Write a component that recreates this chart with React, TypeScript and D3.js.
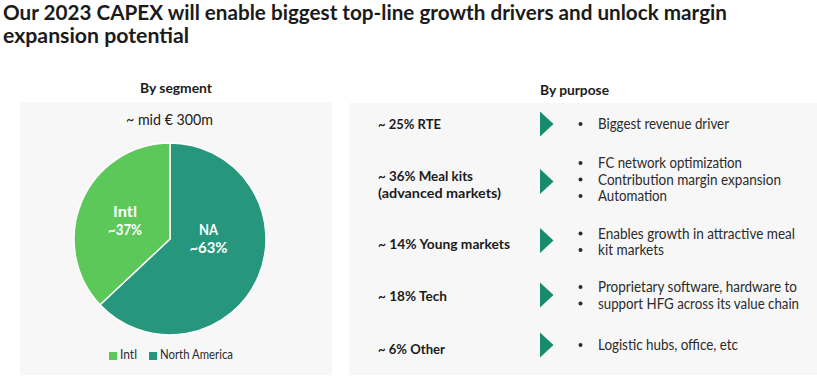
import React from "react";
import * as d3 from "d3";

const titleLines = [
  "Our 2023 CAPEX will enable biggest top-line growth drivers and unlock margin",
  "expansion potential",
];
const segments = ["NA", "Intl"];
const segmentLegend = ["Intl", "North America"];
const segmentValues = [63, 37];
const segmentLabels = ["~63%", "~37%"];
const totalLabel = "~ mid € 300m";
const purposeLabels = [
  ["~ 25% RTE"],
  ["~ 36% Meal kits", "(advanced markets)"],
  ["~ 14% Young markets"],
  ["~ 18% Tech"],
  ["~ 6% Other"],
];
const purposeBullets = [
  ["Biggest revenue driver"],
  ["FC network optimization", "Contribution margin expansion", "Automation"],
  ["Enables growth in attractive meal", "kit markets"],
  ["Proprietary software, hardware to", "support HFG across its value chain"],
  ["Logistic hubs, office, etc"],
];

const FONT = "'Source Sans Pro', Lato, 'Open Sans', sans-serif";
const colors: Record<string, string> = { NA: "#26967C", Intl: "#5CC85A" };

// layout (positions only)
const rowTri = [124, 181.5, 240.5, 295, 345];
const rowLabelY = [129.3, 181, 248.5, 300.5, 354];
const rowBulletY = [129, 168, 238.5, 292, 350];
const labelW: Record<string, number> = {
  "~ 25% RTE": 63, "~ 36% Meal kits": 95, "(advanced markets)": 123,
  "~ 14% Young markets": 132, "~ 18% Tech": 69, "~ 6% Other": 67,
};
const bulletW: Record<string, number> = {
  "Biggest revenue driver": 131, "FC network optimization": 144,
  "Contribution margin expansion": 183, "Automation": 69,
  "Enables growth in attractive meal": 197, "kit markets": 66,
  "Proprietary software, hardware to": 199, "support HFG across its value chain": 201,
  "Logistic hubs, office, etc": 140,
};

export default function App() {
  const cx = 170, cy = 239, r = 96;
  const pie = d3.pie<number>().sort(null).value((d) => d);
  const arcs = pie(segmentValues);
  const arc = d3.arc<d3.PieArcDatum<number>>().innerRadius(0).outerRadius(r);
  const labelPos: Record<string, [number, number]> = { NA: [208.5, 235], Intl: [125, 217] };
  const nameW: Record<string, number> = { NA: 19, Intl: 24 };
  const pctW: Record<string, number> = { NA: 38, Intl: 34 };

  return (
    <svg width={817} height={378} style={{ position: "absolute", left: 0, top: 0 }} fontFamily={FONT}>
      <rect width={817} height={378} fill="#fff" />
      <text x={3} y={20} fontSize={21} fontWeight={700} fill="#1b1b1b" textLength={724} lengthAdjust="spacingAndGlyphs">{titleLines[0]}</text>
      <text x={3} y={42.5} fontSize={21} fontWeight={700} fill="#1b1b1b" textLength={186} lengthAdjust="spacingAndGlyphs">{titleLines[1]}</text>

      {/* left panel */}
      <text x={140} y={92.7} fontSize={13} fontWeight={700} fill="#1b1b1b" textLength={72} lengthAdjust="spacingAndGlyphs">By segment</text>
      <rect x={20} y={102} width={312} height={273} fill="#F7F7F7" />
      <text x={126} y={125} fontSize={16} fill="#222" textLength={87} lengthAdjust="spacingAndGlyphs">{totalLabel}</text>
      <g transform={`translate(${cx},${cy})`}>
        {arcs.map((a, i) => (
          <path key={i} d={arc(a) || ""} fill={colors[segments[i]]} stroke="#fff" strokeWidth={1.5} strokeLinejoin="round" />
        ))}
      </g>
      {segments.map((s, i) => (
        <g key={s} fill="#fff" fontWeight={700} fontSize={15} textAnchor="middle">
          <text x={labelPos[s][0]} y={labelPos[s][1]} textLength={nameW[s]} lengthAdjust="spacingAndGlyphs">{s}</text>
          <text x={labelPos[s][0]} y={labelPos[s][1] + 18} textLength={pctW[s]} lengthAdjust="spacingAndGlyphs">{segmentLabels[i]}</text>
        </g>
      ))}
      {segmentLegend.map((s, i) => {
        const x = i === 0 ? 109 : 149;
        return (
          <g key={s}>
            <rect x={x} y={352} width={8} height={8} fill={i === 0 ? colors.Intl : colors.NA} />
            <text x={x + 11} y={359} fontSize={12.5} fill="#2b2b2b" textLength={i === 0 ? 17 : 73} lengthAdjust="spacingAndGlyphs">{s}</text>
          </g>
        );
      })}

      {/* right panel */}
      <text x={540} y={94.5} fontSize={13} fontWeight={700} fill="#1b1b1b" textLength={69} lengthAdjust="spacingAndGlyphs">By purpose</text>
      <rect x={349} y={103} width={468} height={272} fill="#F7F7F7" />
      {purposeLabels.map((lines, i) => (
        <g key={i}>
          {lines.map((l, j) => (
            <text key={j} x={378} y={rowLabelY[i] + j * 17} fontSize={14} fontWeight={700} fill="#1b1b1b" textLength={labelW[l]} lengthAdjust="spacingAndGlyphs">{l}</text>
          ))}
          <path d={`M540,${rowTri[i] - 12.5}L553.5,${rowTri[i]}L540,${rowTri[i] + 12.5}Z`} fill="#178B6D" />
          {purposeBullets[i].map((b, j) => (
            <g key={j}>
              <circle cx={580.5} cy={rowBulletY[i] + j * 16.5 - 5} r={2} fill="#2b2b2b" />
              <text x={598} y={rowBulletY[i] + j * 16.5} fontSize={14.5} fill="#2b2b2b" textLength={bulletW[b]} lengthAdjust="spacingAndGlyphs">{b}</text>
            </g>
          ))}
        </g>
      ))}
    </svg>
  );
}
